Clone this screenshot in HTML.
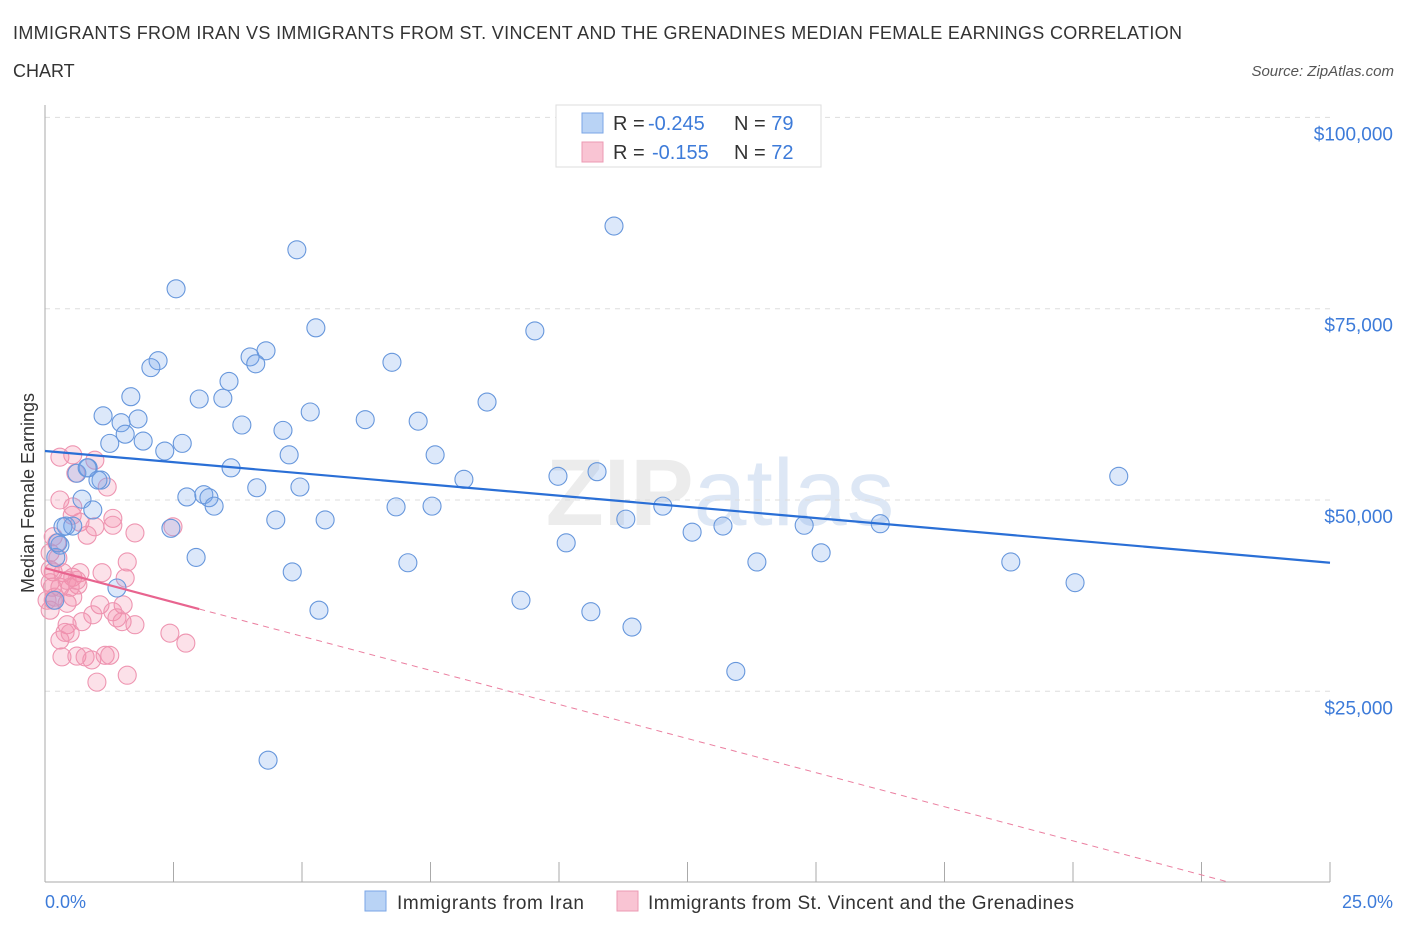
<!DOCTYPE html>
<html><head><meta charset="utf-8"><style>
body{margin:0;background:#fff;font-family:"Liberation Sans",sans-serif}
</style></head><body>
<svg width="1406" height="930" xmlns="http://www.w3.org/2000/svg" font-family="Liberation Sans, sans-serif">
<text x="13" y="39" font-size="18" fill="#333" textLength="1169" lengthAdjust="spacing">IMMIGRANTS FROM IRAN VS IMMIGRANTS FROM ST. VINCENT AND THE GRENADINES MEDIAN FEMALE EARNINGS CORRELATION</text>
<text x="13" y="77" font-size="18" fill="#333">CHART</text>
<text x="1394" y="76" font-size="15" fill="#555" font-style="italic" text-anchor="end">Source: ZipAtlas.com</text>
<text x="720" y="525" font-size="95" fill="#ececec" text-anchor="middle" font-weight="bold">ZIP<tspan fill="#dde7f5" font-weight="normal">atlas</tspan></text>
<g id="grid"></g>
<g id="axes"></g>
<g id="marks"></g>
<text x="34" y="493" font-size="18" fill="#333" text-anchor="middle" transform="rotate(-90 34 493)">Median Female Earnings</text>
<text x="45" y="908" font-size="18" fill="#3d7bd9">0.0%</text>
<text x="1393" y="908" font-size="18" fill="#3d7bd9" text-anchor="end">25.0%</text>
<g>
<rect x="556" y="105" width="265" height="62" fill="#fff" stroke="#ddd"/>
<rect x="582" y="113" width="21" height="20" fill="#b9d3f5" stroke="#7aa6e6"/>
<rect x="582" y="142" width="21" height="20" fill="#f9c4d3" stroke="#ec9ab3"/>
<text x="613" y="130" font-size="20" fill="#333">R = <tspan fill="#3d7bd9" x="648">-0.245</tspan><tspan x="734">N = </tspan><tspan fill="#3d7bd9">79</tspan></text>
<text x="613" y="159" font-size="20" fill="#333">R = <tspan fill="#3d7bd9" x="652">-0.155</tspan><tspan x="734">N = </tspan><tspan fill="#3d7bd9">72</tspan></text>
</g>
<g>
<rect x="365" y="891" width="21" height="20" fill="#b9d3f5" stroke="#7aa6e6"/>
<text x="397" y="909" font-size="19" fill="#333" textLength="187" lengthAdjust="spacing">Immigrants from Iran</text>
<rect x="617" y="891" width="21" height="20" fill="#f9c4d3" stroke="#ec9ab3"/>
<text x="648" y="909" font-size="19" fill="#333" textLength="426" lengthAdjust="spacing">Immigrants from St. Vincent and the Grenadines</text>
</g>
</svg>
<script>
const yTicks=[25000,50000,75000,100000];
const yTickLabels=["$25,000","$50,000","$75,000","$100,000"];
const xTicks=[0,2.5,5,7.5,10,12.5,15,17.5,20,22.5,25];
const iranX=[4.90,11.07,2.55,5.27,9.53,4.30,3.99,4.10,2.20,2.06,6.75,3.58,1.67,3.00,3.46,5.16,8.60,1.13,1.48,1.81,6.23,7.26,3.83,4.63,1.56,1.91,1.26,2.67,2.33,4.75,7.59,0.84,3.62,10.74,8.15,9.98,20.89,1.09,4.12,4.96,0.72,2.76,3.09,3.19,3.29,6.83,7.53,12.02,0.93,4.49,5.45,11.30,0.41,0.54,2.45,12.59,13.19,14.77,16.25,10.14,0.29,15.10,2.94,7.06,13.85,18.79,4.81,1.40,20.04,5.33,9.26,10.62,11.42,13.44,4.34,0.21,0.19,0.25,0.35,0.62,0.82,1.03];
const iranY=[82.7,85.8,77.6,72.5,72.1,69.5,68.7,67.8,68.2,67.3,68.0,65.5,63.5,63.2,63.3,61.5,62.8,61.0,60.1,60.6,60.5,60.3,59.8,59.1,58.6,57.7,57.4,57.4,56.4,55.9,55.9,54.2,54.2,53.7,52.7,53.1,53.1,52.6,51.6,51.7,50.1,50.4,50.7,50.3,49.2,49.1,49.2,49.2,48.7,47.4,47.4,47.5,46.6,46.6,46.3,45.8,46.6,46.7,46.9,44.4,44.1,43.1,42.5,41.8,41.9,41.9,40.6,38.5,39.2,35.6,36.9,35.4,33.4,27.6,16.0,42.5,36.9,44.4,46.5,53.5,54.2,52.6];
const svgX=[0.29,0.54,0.97,0.60,1.21,0.29,0.54,0.53,0.68,1.32,1.32,0.97,0.82,1.75,2.49,0.16,0.23,0.10,0.25,1.60,0.16,0.35,0.54,0.68,1.11,1.56,0.10,0.29,0.49,0.64,0.54,0.16,0.10,0.43,1.07,1.52,1.32,0.93,1.40,1.50,1.75,0.72,0.43,0.39,0.29,0.49,2.43,2.74,0.33,0.62,0.78,0.91,1.17,1.26,1.60,1.01,0.14,0.19,0.04,0.10,0.43,0.62];
const svgY=[55.6,55.9,55.2,53.5,51.7,50.0,49.1,48.0,47.1,47.6,46.7,46.5,45.4,45.7,46.5,45.2,44.4,43.1,42.4,41.9,40.6,40.5,39.9,40.5,40.5,39.8,39.2,38.6,38.6,38.9,37.3,36.9,35.6,36.5,36.3,36.3,35.4,35.0,34.6,34.1,33.7,34.1,33.7,32.7,31.7,32.6,32.6,31.3,29.5,29.6,29.5,29.1,29.7,29.7,27.1,26.2,38.6,37.3,36.9,40.9,39.5,39.5];
const iranTrend=[56.4,41.8]; // value (k$) at x=0 and x=25
const svgTrend=[41.1,-1.782]; // intercept (k$), slope per %
const NS="http://www.w3.org/2000/svg";
const X=p=>45+p*51.4;
const Y=v=>500-(v-50000)*191.3/25000;
function mk(t,a,parent){const e=document.createElementNS(NS,t);for(const k in a)e.setAttribute(k,a[k]);document.getElementById(parent).appendChild(e);return e;}
yTicks.forEach((v,i)=>{
 const g=mk('line',{x1:45,x2:1330,y1:Y(v),y2:Y(v),stroke:'#ddd','stroke-dasharray':'5,5'},'grid');
 
 
 const t=mk('text',{x:1393,y:Y(v)+23,'font-size':19,fill:'#3d7bd9','text-anchor':'end'},'axes');
 t.textContent=yTickLabels[i];
 
 
});
const ya=mk('line',{x1:45,x2:45,y1:105,y2:882,stroke:'#aaa'},'axes');


const xa=mk('line',{x1:45,x2:1330,y1:882,y2:882,stroke:'#aaa'},'axes');


xTicks.forEach(p=>{
 const t=mk('line',{x1:X(p),x2:X(p),y1:862,y2:882,stroke:'#aaa'},'axes');
 
 
});
svgX.forEach((p,i)=>{
 const c=mk('circle',{cx:X(p),cy:Y(svgY[i]*1000),r:9,fill:'rgba(243,140,170,0.26)',stroke:'#ee95b1','stroke-width':1.1},'marks');
 
 
});
iranX.forEach((p,i)=>{
 const c=mk('circle',{cx:X(p),cy:Y(iranY[i]*1000),r:9,fill:'rgba(120,165,235,0.26)',stroke:'#6797dc','stroke-width':1.1},'marks');
 
 
});
const bt=mk('line',{x1:X(0),y1:Y(iranTrend[0]*1000),x2:X(25),y2:Y(iranTrend[1]*1000),stroke:'#2a6fd6','stroke-width':2.2},'marks');


const pv=x=>(svgTrend[0]+svgTrend[1]*x)*1000;
const xEnd=-svgTrend[0]/svgTrend[1];
const pd=mk('line',{x1:X(3),y1:Y(pv(3)),x2:X(xEnd),y2:Y(pv(xEnd)),stroke:'#eb7fa0','stroke-width':1,'stroke-dasharray':'6,5'},'marks');


const ps=mk('line',{x1:X(0),y1:Y(pv(0)),x2:X(3),y2:Y(pv(3)),stroke:'#e8648f','stroke-width':2.2},'marks');


</script>
</body></html>
